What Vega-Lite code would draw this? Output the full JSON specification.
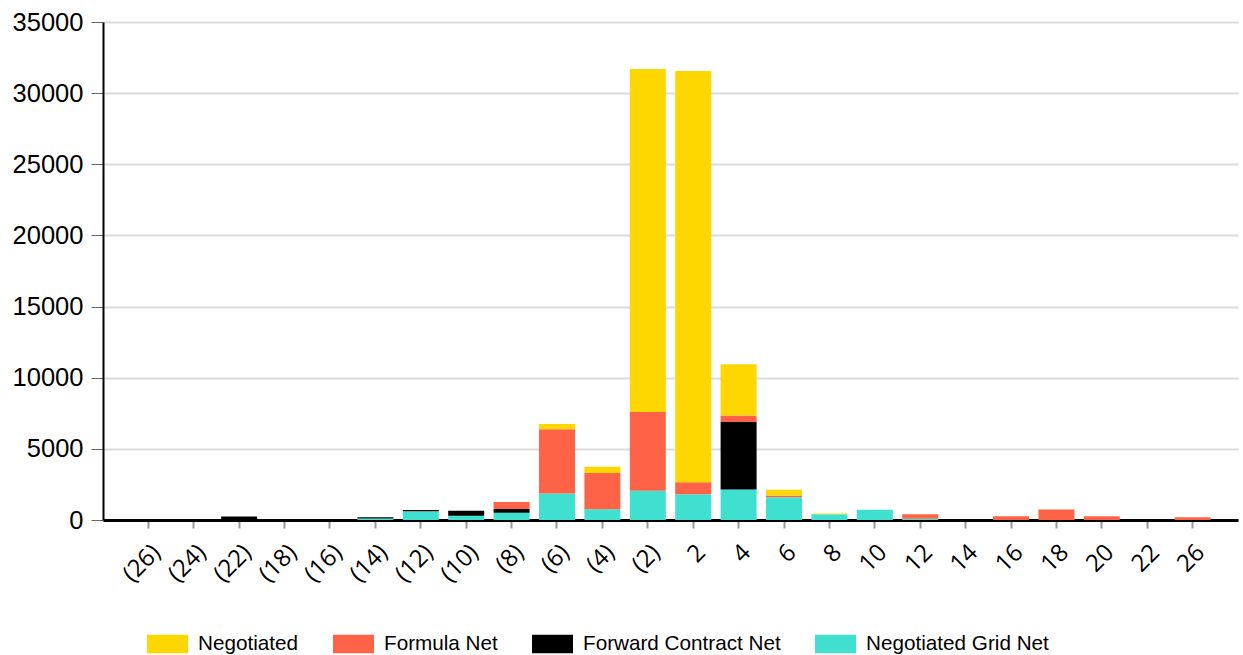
{
  "$schema": "https://vega.github.io/schema/vega-lite/v6.json",
  "autosize": {"type": "none"},
  "padding": {"left": 103, "top": 22, "right": 5, "bottom": 135},
  "width": 1135,
  "height": 498,
  "background": "white",
  "config": {"view": {"stroke": null}},
  "data": {"values": [
    {"cat": "(22)", "series": "Forward Contract Net", "value": 250},
    {"cat": "(14)", "series": "Negotiated Grid Net", "value": 100},
    {"cat": "(14)", "series": "Forward Contract Net", "value": 100},
    {"cat": "(12)", "series": "Negotiated Grid Net", "value": 620},
    {"cat": "(12)", "series": "Forward Contract Net", "value": 80},
    {"cat": "(10)", "series": "Negotiated Grid Net", "value": 300},
    {"cat": "(10)", "series": "Forward Contract Net", "value": 350},
    {"cat": "(8)", "series": "Negotiated Grid Net", "value": 510},
    {"cat": "(8)", "series": "Forward Contract Net", "value": 260},
    {"cat": "(8)", "series": "Formula Net", "value": 490},
    {"cat": "(6)", "series": "Negotiated Grid Net", "value": 1870},
    {"cat": "(6)", "series": "Formula Net", "value": 4500},
    {"cat": "(6)", "series": "Negotiated", "value": 380},
    {"cat": "(4)", "series": "Negotiated Grid Net", "value": 750},
    {"cat": "(4)", "series": "Formula Net", "value": 2560},
    {"cat": "(4)", "series": "Negotiated", "value": 440},
    {"cat": "(2)", "series": "Negotiated Grid Net", "value": 2060},
    {"cat": "(2)", "series": "Formula Net", "value": 5530},
    {"cat": "(2)", "series": "Negotiated", "value": 24100},
    {"cat": "2", "series": "Negotiated Grid Net", "value": 1815},
    {"cat": "2", "series": "Formula Net", "value": 845},
    {"cat": "2", "series": "Negotiated", "value": 28890},
    {"cat": "4", "series": "Negotiated Grid Net", "value": 2145},
    {"cat": "4", "series": "Forward Contract Net", "value": 4735},
    {"cat": "4", "series": "Formula Net", "value": 470},
    {"cat": "4", "series": "Negotiated", "value": 3590},
    {"cat": "6", "series": "Negotiated Grid Net", "value": 1600},
    {"cat": "6", "series": "Formula Net", "value": 120},
    {"cat": "6", "series": "Negotiated", "value": 400},
    {"cat": "8", "series": "Negotiated Grid Net", "value": 410},
    {"cat": "8", "series": "Negotiated", "value": 50},
    {"cat": "10", "series": "Negotiated Grid Net", "value": 720},
    {"cat": "12", "series": "Negotiated Grid Net", "value": 80},
    {"cat": "12", "series": "Formula Net", "value": 330},
    {"cat": "16", "series": "Formula Net", "value": 270},
    {"cat": "18", "series": "Formula Net", "value": 740},
    {"cat": "20", "series": "Formula Net", "value": 270},
    {"cat": "26", "series": "Formula Net", "value": 200}
  ]},
  "transform": [
    {"calculate": "indexof(['Negotiated Grid Net','Forward Contract Net','Formula Net','Negotiated'], datum.series)", "as": "stackOrder"}
  ],
  "mark": {"type": "bar"},
  "encoding": {
    "x": {
      "field": "cat", "type": "nominal",
      "scale": {
        "domain": ["(26)","(24)","(22)","(18)","(16)","(14)","(12)","(10)","(8)","(6)","(4)","(2)","2","4","6","8","10","12","14","16","18","20","22","26"],
        "paddingInner": 0.207, "paddingOuter": 0.603
      },
      "axis": {
        "title": null,
        "labelAngle": -45,
        "labelFont": "Open Sans",
        "labelFontSize": 24,
        "labelColor": "#000",
        "labelPadding": 12,
        "domainColor": "#000",
        "domainWidth": 3,
        "tickColor": "#999",
        "tickWidth": 2,
        "tickSize": 8,
        "grid": false
      }
    },
    "y": {
      "field": "value", "type": "quantitative", "aggregate": "sum",
      "stack": "zero",
      "scale": {"domain": [0, 35000], "nice": false},
      "axis": {
        "title": null,
        "values": [0, 5000, 10000, 15000, 20000, 25000, 30000, 35000],
        "format": "d",
        "labelFont": "Liberation Sans",
        "labelFontSize": 25.5,
        "labelColor": "#000",
        "labelPadding": 8,
        "domainColor": "#000",
        "domainWidth": 2,
        "tickColor": "#666",
        "tickSize": 12,
        "grid": true,
        "gridColor": "#dcdcdc",
        "gridWidth": 2
      }
    },
    "color": {
      "field": "series", "type": "nominal",
      "scale": {
        "domain": ["Negotiated", "Formula Net", "Forward Contract Net", "Negotiated Grid Net"],
        "range": ["#FFD700", "#FF6347", "#000000", "#40E0D0"]
      },
      "legend": {
        "title": null,
        "orient": "none",
        "direction": "horizontal",
        "legendX": 44,
        "legendY": 601,
        "symbolType": "M-1,-0.45H1V0.45H-1Z",
        "symbolSize": 1681,
        "symbolStrokeWidth": 0,
        "symbolOpacity": 1,
        "labelFont": "Liberation Sans",
        "labelFontSize": 20.7,
        "labelLimit": 500,
        "labelColor": "#000",
        "labelOffset": 10,
        "columnPadding": 34
      }
    },
    "order": {"field": "stackOrder", "type": "quantitative", "aggregate": "min", "sort": "ascending"}
  }
}
